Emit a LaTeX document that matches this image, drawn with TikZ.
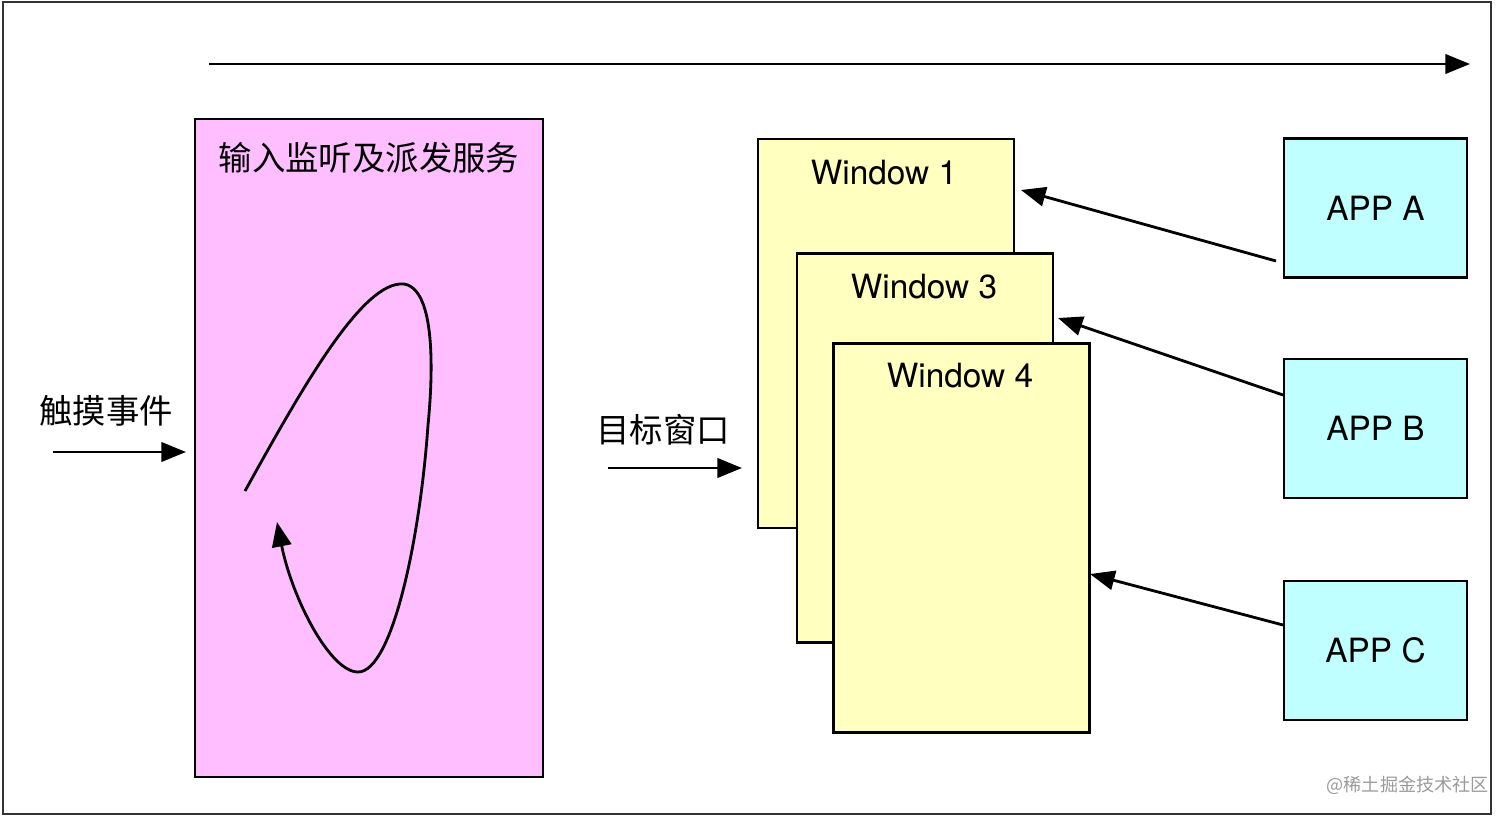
\documentclass[tikz,border=0pt]{standalone}
\usepackage{fontspec}
\setmainfont{TeX Gyre Heros}
\newfontfamily\cjk{Noto Sans CJK SC}
\usetikzlibrary{arrows.meta}
\definecolor{pinkfill}{HTML}{FFBEFF}
\definecolor{yellowfill}{HTML}{FFFFC0}
\definecolor{cyanfill}{HTML}{C0FFFF}
\definecolor{framegray}{HTML}{333333}
\definecolor{wmgray}{HTML}{9A9A9A}
\tikzset{
  boxbase/.style={draw=black, line width=1.6pt, inner sep=0pt},
  pinkbox/.style={boxbase, fill=pinkfill, minimum width=6.96cm, minimum height=13.16cm},
  winbox/.style={boxbase, fill=yellowfill, minimum width=5.12cm, minimum height=7.78cm},
  appbox/.style={boxbase, fill=cyanfill, minimum width=3.66cm, minimum height=2.78cm,
     font=\fontsize{19pt}{23pt}\selectfont},
  lbl/.style={font=\fontsize{19pt}{23pt}\selectfont, inner sep=0pt},
  cjklbl/.style={font=\cjk\fontsize{19pt}{23pt}\selectfont, inner sep=0pt},
  arr/.style={line width=1.6pt, -{Triangle[length=14pt,width=11pt]}},
}
\begin{document}
\begin{tikzpicture}[x=0.02cm, y=-0.02cm]
\useasboundingbox (0,0) rectangle (1512,818);
\draw[framegray, line width=0.9pt] (3,2) rectangle (1491,814);

% top timeline arrow
\coordinate (tl) at (209,64);
\coordinate (tr) at (1470,64);
\draw[arr] (tl) -- (tr);

% pink service box
\node[pinkbox] (svc) at (369,448) {};
\node[cjklbl] (svct) at (369,158) {输入监听及派发服务};

% loop
\coordinate (ls) at (245,491);
\coordinate (le) at (277,522);
\draw[line width=1.6pt, -{Triangle[length=14pt,width=11pt]}]
  (ls) .. controls (300,392) and (362,280) .. (404,284)
       .. controls (436,289) and (433,375) .. (428,425)
       .. controls (420,540) and (392,672) .. (358,672)
       .. controls (330,672) and (292,598) .. (le);

% input arrow
\node[cjklbl] (touch) at (106,411) {触摸事件};
\coordinate (ti) at (53,452);
\coordinate (tie) at (186,452);
\draw[arr] (ti) -- (tie);

% windows
\node[winbox] (w1) at (886,333.5) {};
\node[lbl] (w1t) at (884,173) {Window 1};
\node[winbox] (w3) at (925,448) {};
\node[lbl] (w3t) at (924,287) {Window 3};
\node[winbox] (w4) at (961.5,538) {};
\node[lbl] (w4t) at (960,376) {Window 4};

% target window arrow
\node[cjklbl] (target) at (663,430) {目标窗口};
\coordinate (tgs) at (608,468);
\coordinate (tge) at (742,468);
\draw[arr] (tgs) -- (tge);

% apps
\node[appbox] (appA) at (1375.5,208) {APP A};
\node[appbox] (appB) at (1375.5,428.5) {APP B};
\node[appbox] (appC) at (1375.5,650.5) {APP C};

\coordinate (aS) at (1276,261);
\coordinate (aE) at (1021,190);
\coordinate (bS) at (1283,395);
\coordinate (bE) at (1058,318);
\coordinate (cS) at (1283,625);
\coordinate (cE) at (1090,574);
\draw[arr] (aS) -- (aE);
\draw[arr] (bS) -- (bE);
\draw[arr] (cS) -- (cE);

% watermark
\node[font=\cjk\fontsize{10.3pt}{12pt}\selectfont, text=wmgray, anchor=east, inner sep=0pt] (wm) at (1489,785) {@稀土掘金技术社区};
\end{tikzpicture}
\end{document}
